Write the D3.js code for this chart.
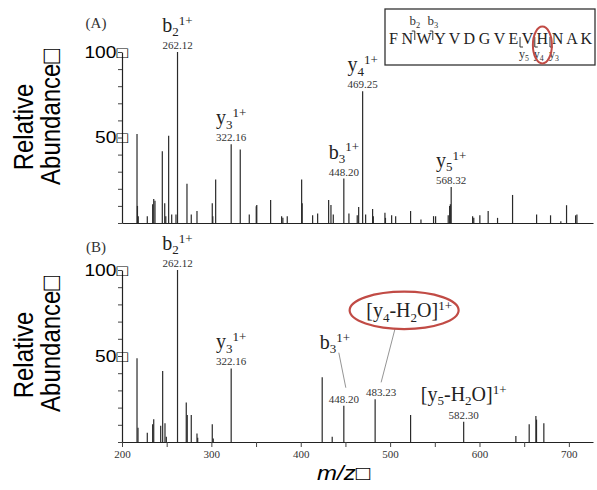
<!DOCTYPE html>
<html>
<head>
<meta charset="utf-8">
<script src="https://cdn.jsdelivr.net/npm/d3@7"></script>
<style>
  body { margin: 0; background: #fff; }
</style>
</head>
<body>
<div id="chart"></div>
<script>
// x axis ticks (every 50, labels on the hundreds)
const xTicks = [200, 250, 300, 350, 400, 450, 500, 550, 600, 650, 700];
const xTickLabels = ["200", "", "300", "", "400", "", "500", "", "600", "", "700"];
const yTicks = [0, 10, 20, 30, 40, 50, 60, 70, 80, 90, 100];
const yTickLabels = ["", "", "", "", "", "50\u25A1", "", "", "", "", "100\u25A1"];

// (A) spectrum, m/z and relative abundance
const mzA = [216.8, 217.3, 218.2, 228.3, 234.3, 235.5, 236.9, 245.1, 247.8, 249.0, 252.2, 255.6, 260.4, 262.12,
  272.7, 277.5, 283.9, 301.0, 301.6, 304.8, 322.16, 332.3, 342.4, 350.2, 350.8, 366.3, 378.6, 380.0, 384.9,
  401.0, 401.6, 413.3, 418.9, 431.2, 433.8, 436.4, 448.20, 453.9, 463.2, 464.8, 469.25, 472.6, 480.4, 481.2,
  494.2, 494.8, 501.7, 506.2, 522.9, 534.5, 548.6, 550.9, 565.0, 566.6, 567.4, 568.32, 592.3, 593.6, 600.4,
  609.7, 620.2, 637.0, 663.9, 679.5, 691.0, 697.4, 707.5, 709.0];
const abA = [52, 10, 4, 4, 11, 14, 13, 42, 11.5, 4, 51, 5, 5, 100,
  23, 5, 7, 11.5, 4, 25.5, 46, 43, 5, 9.8, 10.5, 13.5, 4, 3, 4,
  25.5, 11.5, 4.5, 5.5, 13.5, 10.5, 5, 26, 5.5, 4.5, 9.4, 77, 5, 8.2, 4,
  6, 3, 4.5, 4, 7, 2, 4, 4, 4.5, 10, 11, 21, 4, 3, 4.5,
  7, 3, 16.4, 5, 4.5, 1, 10.4, 4.5, 5];
const ionsA = ["b_2^1+", "y_3^1+", "b_3^1+", "y_4^1+", "y_5^1+"];
const ionMzA = [262.12, 322.16, 448.20, 469.25, 568.32];

// (B) spectrum
const mzB = [216.8, 217.9, 228.3, 234.3, 235.5, 243.3, 245.5, 248.1, 249.6, 262.12, 271.9, 273.0, 277.5,
  283.9, 284.7, 301.0, 302.1, 322.16, 424.0, 435.2, 448.20, 483.23, 522.9, 582.30, 640.7, 655.6, 663.1,
  663.8, 672.0];
const abB = [48.7, 8.3, 5.4, 10.3, 13.2, 9.5, 41.3, 10.9, 3, 100, 23, 15.7, 15.7,
  5, 2.5, 10.3, 2, 42.8, 37.6, 3, 21.1, 24.8, 15.7, 11.8, 3.5, 10.3, 15.1,
  13, 10.9];
const ionsB = ["b_2^1+", "y_3^1+", "b_3^1+", "[y_4-H_2O]^1+", "[y_5-H_2O]^1+"];
const ionMzB = [262.12, 322.16, 448.20, 483.23, 582.30];

// peptide in the inset
const residues = ["F", "N", "W", "Y", "V", "D", "G", "V", "E", "V", "H", "N", "A", "K"];
const bCuts = [2, 3];
const yCuts = [5, 4, 3];

const W = 597, H = 490;
const SANS = "Liberation Sans, Arial, DejaVu Sans, sans-serif";
const SERIF = "Liberation Serif, Times New Roman, serif";
const RED = "#c14b45";

const svg = d3.select("#chart").append("svg")
  .attr("width", W)
  .attr("height", H)
  .style("background", "#fff");

const x = d3.scaleLinear().domain([200, 727]).range([122, 593]);

// text with _sub and ^sup parts
function richText(sel, str, size) {
  const parts = [];
  let buf = "", i = 0;
  while (i < str.length) {
    const c = str[i];
    if (c === "_") {
      if (buf) parts.push([buf, 0]);
      buf = "";
      parts.push([str[i + 1], 1]);
      i += 2;
    } else if (c === "^") {
      if (buf) parts.push([buf, 0]);
      buf = "";
      parts.push([str.slice(i + 1), 2]);
      i = str.length;
    } else {
      buf += c;
      i++;
    }
  }
  if (buf) parts.push([buf, 0]);
  let cur = 0;
  parts.forEach(([t, k]) => {
    const off = k === 1 ? 0.22 * size : k === 2 ? -0.36 * size : 0;
    sel.append("tspan")
      .attr("dy", off - cur)
      .attr("font-size", k ? size * 0.65 : size)
      .text(t);
    cur = off;
  });
}

const panels = [
  { tag: "(A)", mz: mzA, ab: abA, ions: ionsA, ionMz: ionMzA, y0: 223, y100: 52, xaxis: false,
    tagY: 28, relY: 127, abY: 117, callouts: {} },
  { tag: "(B)", mz: mzB, ab: abB, ions: ionsB, ionMz: ionMzB, y0: 442, y100: 270, xaxis: true,
    tagY: 252, relY: 355, abY: 344,
    callouts: {
      2: { dx: -9, dy: -54, line: [[4, 4], [2, -15]] },
      3: { ndx: 6, dx: 28, dy: -79, line: [[-14, 11], [0, -14]], ring: [-5, -7, 54.5, 18.7] },
      4: { dy: -18 }
    } }
];

panels.forEach(p => {
  const y = d3.scaleLinear().domain([0, 100]).range([p.y0, p.y100]);
  const g = svg.append("g");

  // peaks
  g.selectAll("line.peak")
    .data(p.mz)
    .enter()
    .append("line")
    .attr("class", "peak")
    .attr("x1", d => x(d))
    .attr("x2", d => x(d))
    .attr("y1", y(0))
    .attr("y2", (d, i) => y(p.ab[i]))
    .attr("stroke", "#2a2a2a")
    .attr("stroke-width", 1.2);

  // y axis
  const ya = g.append("g")
    .attr("transform", `translate(${x(200)},0)`)
    .call(d3.axisLeft(y).tickValues(yTicks).tickSize(4).tickSizeOuter(0)
      .tickFormat((d, i) => yTickLabels[i]));
  ya.select(".domain").attr("stroke", "#222").attr("stroke-width", 1.2);
  ya.selectAll(".tick line").attr("stroke", "#444");
  ya.selectAll(".tick text")
    .attr("x", 0)
    .attr("transform", "translate(6,0) scale(1.2,1)")
    .attr("fill", "#000")
    .style("font-family", SANS)
    .style("font-size", "16px");

  // x axis
  const xa = g.append("g")
    .attr("transform", `translate(0,${y(0)})`)
    .call(p.xaxis
      ? d3.axisBottom(x).tickValues(xTicks).tickSize(5).tickSizeOuter(0).tickFormat((d, i) => xTickLabels[i])
      : d3.axisBottom(x).tickValues([]).tickSizeOuter(0));
  xa.select(".domain").attr("stroke", "#222").attr("stroke-width", 1.2);
  xa.selectAll(".tick line").attr("stroke", "#444");
  xa.selectAll(".tick text")
    .attr("fill", "#333")
    .style("font-family", SERIF)
    .style("font-size", "11px");

  // panel tag
  g.append("text")
    .attr("x", 96).attr("y", p.tagY)
    .attr("text-anchor", "middle")
    .attr("fill", "#333")
    .style("font-family", SERIF)
    .style("font-size", "15px")
    .text(p.tag);

  // y title (two lines)
  g.append("text")
    .attr("transform", `translate(33,${p.relY}) scale(1.15,1) rotate(-90)`)
    .attr("text-anchor", "middle")
    .style("font-family", SANS)
    .style("font-size", "24px")
    .text("Relative");
  g.append("text")
    .attr("transform", `translate(60,${p.abY}) scale(1.15,1) rotate(-90)`)
    .attr("text-anchor", "middle")
    .style("font-family", SANS)
    .style("font-size", "24px")
    .text("Abundance\u25A1");

  // ion annotations
  p.ionMz.forEach((m, i) => {
    const k = p.mz.indexOf(m);
    const c = p.callouts[i] || {};
    const nx = x(m) + (c.ndx || 0);
    const ny = y(p.ab[k]) - 3;
    g.append("text")
      .attr("x", nx).attr("y", ny)
      .attr("text-anchor", "middle")
      .attr("fill", "#333")
      .style("font-family", SERIF)
      .style("font-size", "11px")
      .text(m.toFixed(2));
    const ix = nx + (c.dx || 0);
    const iy = ny + (c.dy !== undefined ? c.dy : -17);
    const t = g.append("text")
      .attr("x", ix).attr("y", iy)
      .attr("text-anchor", "middle")
      .attr("fill", "#222")
      .style("font-family", SERIF);
    richText(t, p.ions[i], 20);
    if (c.line) {
      g.append("line")
        .attr("x1", ix + c.line[0][0]).attr("y1", iy + c.line[0][1])
        .attr("x2", nx + c.line[1][0]).attr("y2", ny + c.line[1][1])
        .attr("stroke", "#888")
        .attr("stroke-width", 0.9);
    }
    if (c.ring) {
      g.append("ellipse")
        .attr("cx", ix + c.ring[0]).attr("cy", iy + c.ring[1])
        .attr("rx", c.ring[2]).attr("ry", c.ring[3])
        .attr("fill", "none")
        .attr("stroke", RED)
        .attr("stroke-width", 2.2);
    }
  });
});

// x title
svg.append("text")
  .attr("transform", "translate(317,480) scale(1.2,1)")
  .style("font-family", SANS)
  .style("font-style", "italic")
  .style("font-size", "20px")
  .text("m/z\u25A1");

// inset with the peptide sequence
const inset = svg.append("g");
inset.append("rect")
  .attr("x", 385).attr("y", 9)
  .attr("width", 210).attr("height", 56)
  .attr("fill", "#fff")
  .attr("stroke", "#333")
  .attr("stroke-width", 1.3);

const seq = inset.append("text")
  .attr("x", 389).attr("y", 44)
  .attr("textLength", 203)
  .attr("lengthAdjust", "spacing")
  .attr("fill", "#222")
  .style("font-family", SERIF)
  .style("font-size", "16px")
  .text(residues.join(" "));

const ext = i => seq.node().getExtentOfChar(2 * i);
const gapX = i => {
  const a = ext(i), b = ext(i + 1);
  return (a.x + a.width + b.x) / 2;
};

bCuts.forEach(n => {
  const m = gapX(n - 1);
  inset.append("path")
    .attr("d", `M${m - 3},31H${m}V40`)
    .attr("fill", "none")
    .attr("stroke", "#333")
    .attr("stroke-width", 1);
  const t = inset.append("text")
    .attr("x", m).attr("y", 25)
    .attr("text-anchor", "middle")
    .attr("fill", "#333")
    .style("font-family", SERIF);
  richText(t, "b_" + n, 13);
});

yCuts.forEach(n => {
  const m = gapX(residues.length - n - 1);
  inset.append("path")
    .attr("d", `M${m},37V47H${m + 3}`)
    .attr("fill", "none")
    .attr("stroke", "#333")
    .attr("stroke-width", 1);
  const t = inset.append("text")
    .attr("x", m + 4).attr("y", 58)
    .attr("text-anchor", "middle")
    .attr("fill", "#333")
    .style("font-family", SERIF);
  richText(t, "y_" + n, 12);
});

const hx = ext(10);
inset.append("ellipse")
  .attr("cx", hx.x + hx.width / 2).attr("cy", 45)
  .attr("rx", 9.5).attr("ry", 18.5)
  .attr("fill", "none")
  .attr("stroke", RED)
  .attr("stroke-width", 2);
</script>
</body>
</html>
